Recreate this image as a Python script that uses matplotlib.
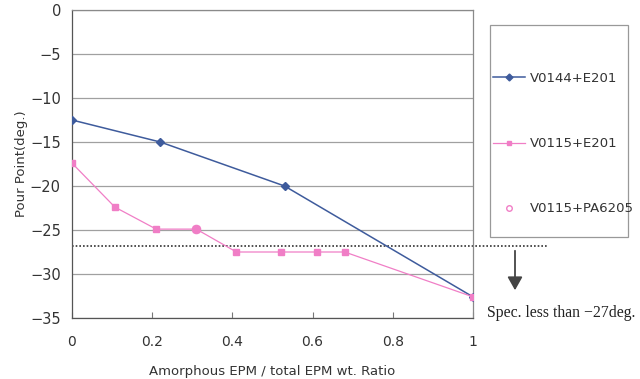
import matplotlib
matplotlib.use("Agg")
import matplotlib.pyplot as plt
from matplotlib.lines import Line2D
from matplotlib.patches import Rectangle

# Data
x_v0144_e201 = [0.0, 0.22, 0.53, 1.0]
y_v0144_e201 = [-12.5, -15.0, -20.0, -32.6]
x_v0115_e201 = [0.0, 0.107, 0.21, 0.31, 0.41, 0.52, 0.61, 0.68, 1.0]
y_v0115_e201 = [-17.4, -22.4, -24.9, -24.9, -27.5, -27.5, -27.5, -27.5, -32.6]
x_v0115_pa6205 = [0.31]
y_v0115_pa6205 = [-24.9]
spec_value = -26.8
labels = ["V0144+E201", "V0115+E201", "V0115+PA6205"]
x_ticks = [0, 0.2, 0.4, 0.6, 0.8, 1.0]
x_ticklabels = ["0", "0.2", "0.4", "0.6", "0.8", "1"]
y_ticks = [0, -5, -10, -15, -20, -25, -30, -35]

blue = "#3E5B9C"
pink = "#F07EC6"
W, H = 640, 379

fig = plt.figure(figsize=(6.4, 3.79), dpi=100)
ax = fig.add_axes([72 / W, 1 - 318 / H, (473 - 72) / W, (318 - 10) / H])

ax.plot(x_v0144_e201, y_v0144_e201, color=blue, lw=1.1, marker="D", ms=4,
        mfc=blue, mec=blue, zorder=3)
ax.plot(x_v0115_e201, y_v0115_e201, color=pink, lw=0.9, marker="s", ms=4,
        mfc=pink, mec=pink, zorder=3)
ax.plot(x_v0115_pa6205, y_v0115_pa6205, ls="none", marker="o", ms=6,
        mfc="none", mec=pink, mew=0.9, zorder=4)

ax.plot([0, 1.1875], [spec_value, spec_value], ls=(0, (1, 1.2)), color="#333333",
        lw=1.2, clip_on=False, zorder=2)

ax.set_xlim(0, 1)
ax.set_ylim(-35, 0)
ax.set_xticks(x_ticks)
ax.set_xticklabels(x_ticklabels)
ax.set_yticks(y_ticks)
ax.yaxis.grid(True, color="#a0a0a0", lw=0.9)
ax.set_axisbelow(True)
for s in ax.spines.values():
    s.set_color("#8a8a8a")
    s.set_linewidth(0.9)
ax.spines["left"].set_color("#555555")
ax.spines["bottom"].set_color("#555555")
ax.tick_params(axis="x", direction="in", length=4, color="#777777",
               labelsize=10, labelcolor="#333333", pad=12)
ax.tick_params(axis="y", length=0, labelsize=10.5, labelcolor="#333333", pad=8)
ax.set_xlabel("Amorphous EPM / total EPM wt. Ratio", fontsize=9.5, color="#333333",
              labelpad=12)
ax.set_ylabel("Pour Point(deg.)", fontsize=9.5, color="#333333", labelpad=1)

# Legend box
fig.patches.append(Rectangle((490 / W, 1 - 237 / H), (628 - 490) / W, (237 - 25) / H,
                             transform=fig.transFigure, fill=False,
                             edgecolor="#999999", lw=0.9))
handles = [
    Line2D([], [], color=blue, lw=1.1, marker="D", ms=3.5, mfc=blue, mec=blue),
    Line2D([], [], color=pink, lw=0.9, marker="s", ms=3.5, mfc=pink, mec=pink),
    Line2D([], [], ls="none", marker="o", ms=4, mfc="none", mec=pink),
]
leg = fig.legend(handles, labels, loc="upper left",
                 bbox_to_anchor=(493 / W, 1 - 72 / H), frameon=False,
                 fontsize=9.5, labelspacing=3.95, handlelength=2.4,
                 handletextpad=0.4, borderpad=0, borderaxespad=0)
for t in leg.get_texts():
    t.set_color("#333333")

# Arrow and spec text
fig.add_artist(matplotlib.patches.FancyArrowPatch(
    (515 / W, 1 - 248 / H), (515 / W, 1 - 293 / H), transform=fig.transFigure,
    arrowstyle="-|>,head_length=0.8,head_width=0.45", mutation_scale=10,
    color="#444444", lw=1.3))
fig.text(487 / W, 1 - 313 / H, "Spec. less than \u221227deg.", fontsize=11.3,
         family="Liberation Serif", color="#222222", va="center", ha="left")

fig.savefig("out.png", dpi=100)
